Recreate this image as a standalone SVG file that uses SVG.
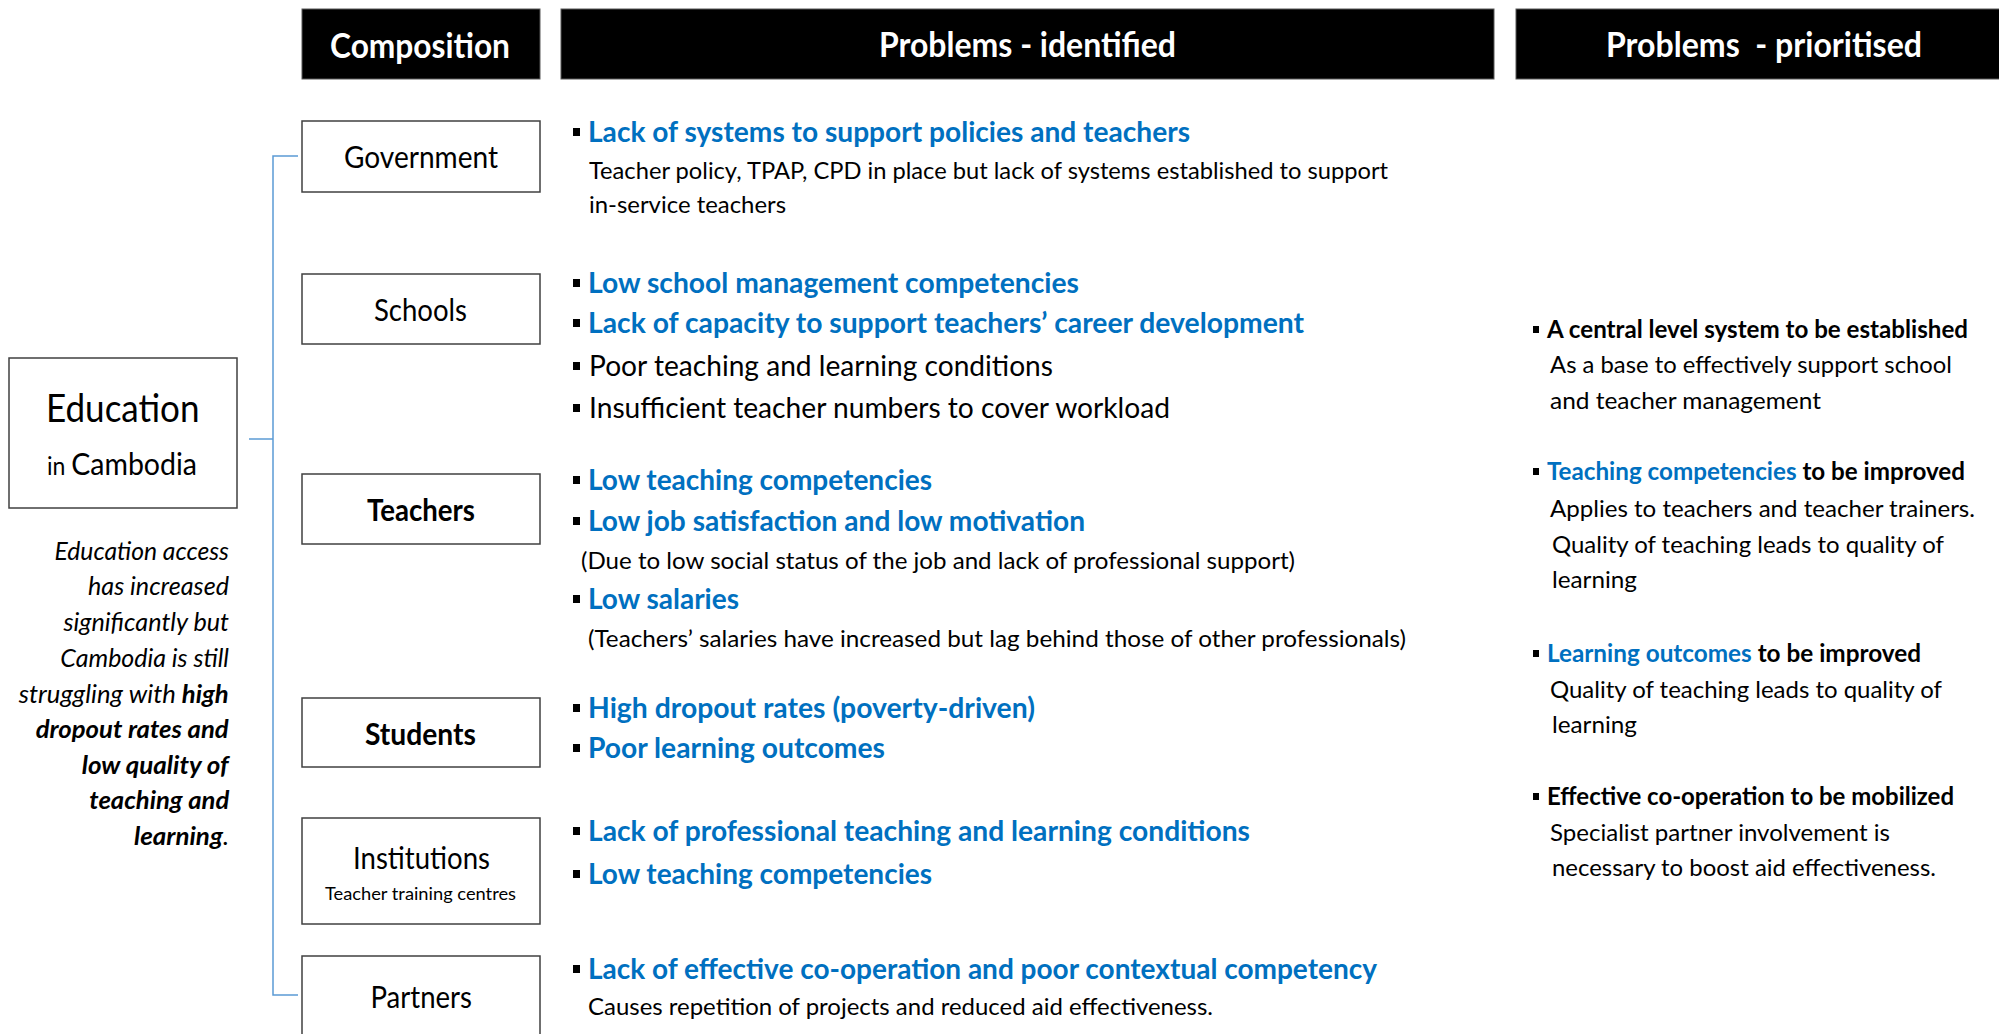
<svg xmlns="http://www.w3.org/2000/svg" width="1999" height="1034" viewBox="0 0 1999 1034">
<style>
text{font-family:Lato,"Liberation Sans",sans-serif;fill:#000}
.hd{fill:#000;stroke:#595959;stroke-width:1}
.ht{fill:#fff;font-weight:700;font-size:35px}
.box{fill:#fff;stroke:#404040;stroke-width:1.5}
.lbl{font-size:30px}
.b{font-weight:700}
.blue{fill:#0070C0;font-weight:700;font-size:29px}
.big{font-size:29px}
.det{font-size:23.5px}
.it{font-size:25px;font-style:italic}
.rt{font-size:24px}
.conn{stroke:#5B9BD5;stroke-width:1.5;fill:none}
.bul{fill:#000}
</style>

<g id="headers">
<rect class="hd" x="302" y="9" width="238" height="70"/>
<text class="ht" x="330" y="58" textLength="180" lengthAdjust="spacingAndGlyphs">Composition</text>
<rect class="hd" x="561" y="9" width="933" height="70"/>
<text class="ht" x="879" y="57" textLength="297" lengthAdjust="spacingAndGlyphs">Problems - identified</text>
<rect class="hd" x="1516" y="9" width="490" height="70"/>
<text class="ht" x="1606" y="57" textLength="316" lengthAdjust="spacingAndGlyphs" style="white-space:pre">Problems  - prioritised</text>
</g>

<g id="connectors">
<path class="conn" d="M298,156 H273 V995 H298"/>
<path class="conn" d="M249,439 H273"/>
</g>

<g id="education">
<rect class="box" x="9" y="358" width="228" height="150"/>
<text x="46" y="422" font-size="39" textLength="153.5" lengthAdjust="spacingAndGlyphs">Education</text>
<text x="47" y="475" textLength="150" lengthAdjust="spacingAndGlyphs"><tspan font-size="25">in </tspan><tspan font-size="31">Cambodia</tspan></text>
</g>

<g id="summary">
<text class="it" x="54.5" y="560" textLength="174.5" lengthAdjust="spacingAndGlyphs">Education access</text>
<text class="it" x="88" y="595" textLength="141" lengthAdjust="spacingAndGlyphs">has increased</text>
<text class="it" x="63.4" y="631" textLength="165.6" lengthAdjust="spacingAndGlyphs">significantly but</text>
<text class="it" x="60.3" y="667" textLength="168.7" lengthAdjust="spacingAndGlyphs">Cambodia is still</text>
<text class="it" x="18.75" y="703" textLength="210" lengthAdjust="spacingAndGlyphs">struggling with <tspan class="b">high</tspan></text>
<text class="it b" x="35.7" y="738" textLength="193" lengthAdjust="spacingAndGlyphs">dropout rates and</text>
<text class="it b" x="81.7" y="774" textLength="147" lengthAdjust="spacingAndGlyphs">low quality of</text>
<text class="it b" x="89.3" y="809" textLength="140" lengthAdjust="spacingAndGlyphs">teaching and</text>
<text class="it" x="134" y="845" textLength="95" lengthAdjust="spacingAndGlyphs"><tspan class="b">learning</tspan>.</text>
</g>

<g id="government">
<rect class="box" x="302" y="121" width="238" height="71"/>
<text class="lbl" x="344" y="168" textLength="154" lengthAdjust="spacingAndGlyphs">Government</text>
<rect class="bul" x="573" y="128" width="7" height="8"/>
<text class="blue" x="588" y="142" textLength="602" lengthAdjust="spacingAndGlyphs">Lack of systems to support policies and teachers</text>
<text class="det" x="589" y="179" textLength="799" lengthAdjust="spacingAndGlyphs">Teacher policy, TPAP, CPD in place but lack of systems established to support</text>
<text class="det" x="589" y="213" textLength="197" lengthAdjust="spacingAndGlyphs">in-service teachers</text>
</g>

<g id="schools">
<rect class="box" x="302" y="274" width="238" height="70"/>
<text class="lbl" x="374" y="321" textLength="93" lengthAdjust="spacingAndGlyphs">Schools</text>
<rect class="bul" x="573" y="279" width="7" height="8"/>
<text class="blue" x="588" y="293" textLength="491" lengthAdjust="spacingAndGlyphs">Low school management competencies</text>
<rect class="bul" x="573" y="319" width="7" height="8"/>
<text class="blue" x="588" y="333" textLength="716" lengthAdjust="spacingAndGlyphs">Lack of capacity to support teachers’ career development</text>
<rect class="bul" x="573" y="362" width="7" height="8"/>
<text class="big" x="589" y="376" textLength="464" lengthAdjust="spacingAndGlyphs">Poor teaching and learning conditions</text>
<rect class="bul" x="573" y="404" width="7" height="8"/>
<text class="big" x="589" y="418" textLength="581" lengthAdjust="spacingAndGlyphs">Insufficient teacher numbers to cover workload</text>
</g>

<g id="teachers">
<rect class="box" x="302" y="474" width="238" height="70"/>
<text class="lbl b" x="367" y="521" textLength="108" lengthAdjust="spacingAndGlyphs">Teachers</text>
<rect class="bul" x="573" y="476" width="7" height="8"/>
<text class="blue" x="588" y="490" textLength="344" lengthAdjust="spacingAndGlyphs">Low teaching competencies</text>
<rect class="bul" x="573" y="517" width="7" height="8"/>
<text class="blue" x="588" y="531" textLength="497" lengthAdjust="spacingAndGlyphs">Low job satisfaction and low motivation</text>
<text class="det" x="581" y="569" textLength="714" lengthAdjust="spacingAndGlyphs">(Due to low social status of the job and lack of professional support)</text>
<rect class="bul" x="573" y="595" width="7" height="8"/>
<text class="blue" x="588" y="609" textLength="151" lengthAdjust="spacingAndGlyphs">Low salaries</text>
<text class="det" x="588" y="647" textLength="818" lengthAdjust="spacingAndGlyphs">(Teachers’ salaries have increased but lag behind those of other professionals)</text>
</g>

<g id="students">
<rect class="box" x="302" y="698" width="238" height="69"/>
<text class="lbl b" x="365" y="745" textLength="111" lengthAdjust="spacingAndGlyphs">Students</text>
<rect class="bul" x="573" y="704" width="7" height="8"/>
<text class="blue" x="588" y="718" textLength="447" lengthAdjust="spacingAndGlyphs">High dropout rates (poverty-driven)</text>
<rect class="bul" x="573" y="744" width="7" height="8"/>
<text class="blue" x="588" y="758" textLength="297" lengthAdjust="spacingAndGlyphs">Poor learning outcomes</text>
</g>

<g id="institutions">
<rect class="box" x="302" y="818" width="238" height="106"/>
<text class="lbl" x="353" y="869" textLength="137" lengthAdjust="spacingAndGlyphs">Institutions</text>
<text x="325" y="900" font-size="18" textLength="191" lengthAdjust="spacingAndGlyphs">Teacher training centres</text>
<rect class="bul" x="573" y="827" width="7" height="8"/>
<text class="blue" x="588" y="841" textLength="662" lengthAdjust="spacingAndGlyphs">Lack of professional teaching and learning conditions</text>
<rect class="bul" x="573" y="870" width="7" height="8"/>
<text class="blue" x="588" y="884" textLength="344" lengthAdjust="spacingAndGlyphs">Low teaching competencies</text>
</g>

<g id="partners">
<rect class="box" x="302" y="956" width="238" height="95"/>
<text class="lbl" x="370.5" y="1008" textLength="101.5" lengthAdjust="spacingAndGlyphs">Partners</text>
<rect class="bul" x="573" y="965" width="7" height="8"/>
<text class="blue" x="588" y="979" textLength="789" lengthAdjust="spacingAndGlyphs">Lack of effective co-operation and poor contextual competency</text>
<text class="det" x="588" y="1015" textLength="625" lengthAdjust="spacingAndGlyphs">Causes repetition of projects and reduced aid effectiveness.</text>
</g>

<g id="prioritised">
<rect class="bul" x="1533" y="326" width="6" height="7"/>
<text class="rt b" x="1547" y="338" textLength="421" lengthAdjust="spacingAndGlyphs">A central level system to be established</text>
<text class="rt" x="1550" y="373" textLength="402" lengthAdjust="spacingAndGlyphs">As a base to effectively support school</text>
<text class="rt" x="1550" y="409" textLength="271" lengthAdjust="spacingAndGlyphs">and teacher management</text>

<rect class="bul" x="1533" y="468" width="6" height="7"/>
<text class="rt b" x="1547" y="480" textLength="418" lengthAdjust="spacingAndGlyphs"><tspan fill="#0070C0">Teaching competencies</tspan> to be improved</text>
<text class="rt" x="1550" y="517" textLength="425" lengthAdjust="spacingAndGlyphs">Applies to teachers and teacher trainers.</text>
<text class="rt" x="1552" y="553" textLength="392" lengthAdjust="spacingAndGlyphs">Quality of teaching leads to quality of</text>
<text class="rt" x="1552" y="588" textLength="85" lengthAdjust="spacingAndGlyphs">learning</text>

<rect class="bul" x="1533" y="650" width="6" height="7"/>
<text class="rt b" x="1547" y="662" textLength="374" lengthAdjust="spacingAndGlyphs"><tspan fill="#0070C0">Learning outcomes</tspan> to be improved</text>
<text class="rt" x="1550" y="697.5" textLength="392" lengthAdjust="spacingAndGlyphs">Quality of teaching leads to quality of</text>
<text class="rt" x="1552" y="733" textLength="85" lengthAdjust="spacingAndGlyphs">learning</text>

<rect class="bul" x="1533" y="793" width="6" height="7"/>
<text class="rt b" x="1547" y="805" textLength="407" lengthAdjust="spacingAndGlyphs">Effective co-operation to be mobilized</text>
<text class="rt" x="1550" y="841" textLength="340" lengthAdjust="spacingAndGlyphs">Specialist partner involvement is</text>
<text class="rt" x="1552" y="876" textLength="384" lengthAdjust="spacingAndGlyphs">necessary to boost aid effectiveness.</text>
</g>
</svg>
